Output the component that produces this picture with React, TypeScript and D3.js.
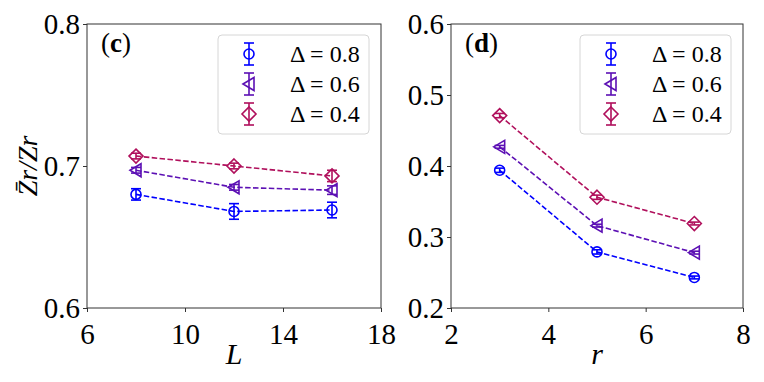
import React, { useEffect, useRef } from 'react';
import * as d3 from 'd3';

// panel (c): L dependence
const L_VALUES = [8, 12, 16];
const C_D08 = [0.680, 0.668, 0.669];
const C_D08_ERR = [0.004, 0.0055, 0.0055];
const C_D06 = [0.697, 0.685, 0.683];
const C_D06_ERR = [0.002, 0.002, 0.003];
const C_D04 = [0.707, 0.700, 0.693];
const C_D04_ERR = [0.002, 0.002, 0.004];

// panel (d): r dependence
const R_VALUES = [3, 5, 7];
const D_D08 = [0.394, 0.279, 0.243];
const D_D08_ERR = [0.003, 0.003, 0.002];
const D_D06 = [0.427, 0.316, 0.278];
const D_D06_ERR = [0.002, 0.002, 0.002];
const D_D04 = [0.471, 0.356, 0.319];
const D_D04_ERR = [0.003, 0.003, 0.002];

const DELTA_LABELS = ['0.8', '0.6', '0.4'];
const C_XTICKS = [6, 10, 14, 18];
const C_YTICKS = [0.6, 0.7, 0.8];
const D_XTICKS = [2, 4, 6, 8];
const D_YTICKS = [0.2, 0.3, 0.4, 0.5, 0.6];

const COLORS = ['#0000ff', '#5c10b4', '#b0105c'];
const MARKERS = ['circle', 'triangle', 'diamond'];
const FONT = "'Liberation Serif', 'Times New Roman', Times, 'DejaVu Serif', serif";

const W = 764;
const H = 382;

function drawMarker(g, kind, x, y, color) {
  if (kind === 'circle') {
    g.append('circle').attr('cx', x).attr('cy', y).attr('r', 5)
      .attr('fill', 'none').attr('stroke', color).attr('stroke-width', 1.6);
  } else if (kind === 'triangle') {
    g.append('path')
      .attr('d', `M${x - 6},${y} L${x + 5},${y - 6.5} L${x + 5},${y + 6.5} Z`)
      .attr('fill', 'none').attr('stroke', color).attr('stroke-width', 1.6);
  } else {
    g.append('path')
      .attr('d', `M${x},${y - 7} L${x + 7},${y} L${x},${y + 7} L${x - 7},${y} Z`)
      .attr('fill', 'none').attr('stroke', color).attr('stroke-width', 1.6);
  }
}

function drawPanel(svg, cfg) {
  const { x, y, xs, series, xTicks, yTicks, xLabel, tag } = cfg;
  const [x0, x1] = x.range();
  const [y0, y1] = y.range();

  const g = svg.append('g');

  // series: dashed lines, error bars, markers
  series.forEach((s, i) => {
    const color = COLORS[i];
    const pts = xs.map((v, k) => ({ x: v, y: s.vals[k], e: s.errs[k] }));
    const line = d3.line().x(d => x(d.x)).y(d => y(d.y));
    g.append('path').datum(pts).attr('d', line)
      .attr('fill', 'none').attr('stroke', color).attr('stroke-width', 1.6)
      .attr('stroke-dasharray', '5.5,2.4');
    pts.forEach(p => {
      const px = x(p.x);
      const top = y(p.y + p.e);
      const bot = y(p.y - p.e);
      g.append('line').attr('x1', px).attr('x2', px).attr('y1', top).attr('y2', bot)
        .attr('stroke', color).attr('stroke-width', 1.6);
      [top, bot].forEach(cy => {
        g.append('line').attr('x1', px - 5).attr('x2', px + 5).attr('y1', cy).attr('y2', cy)
          .attr('stroke', color).attr('stroke-width', 1.6);
      });
      drawMarker(g, MARKERS[i], px, y(p.y), color);
    });
  });

  // frame
  g.append('rect').attr('x', x0).attr('y', y1).attr('width', x1 - x0).attr('height', y0 - y1)
    .attr('fill', 'none').attr('stroke', '#333').attr('stroke-width', 1);

  // axes
  const ax = g.append('g').attr('transform', `translate(0,${y0})`)
    .call(d3.axisBottom(x).tickValues(xTicks).tickSize(4).tickSizeOuter(0).tickPadding(4).tickFormat(d3.format('d')));
  const ay = g.append('g').attr('transform', `translate(${x0},0)`)
    .call(d3.axisLeft(y).tickValues(yTicks).tickSize(4).tickSizeOuter(0).tickPadding(3).tickFormat(d3.format('.1f')));
  [ax, ay].forEach(a => {
    a.attr('font-family', null).attr('font-size', null);
    a.select('.domain').remove();
    a.selectAll('line').attr('stroke', '#333');
    a.selectAll('text').style('font-family', FONT).style('font-size', '29px').attr('fill', '#000');
  });
  ax.selectAll('text').attr('dy', '0.95em');
  ay.selectAll('text').attr('dy', '0.33em');

  // axis label
  g.append('text').attr('x', (x0 + x1) / 2).attr('y', 364).attr('text-anchor', 'middle')
    .style('font-family', FONT).style('font-style', 'italic').style('font-size', '30px').text(xLabel);

  // panel tag
  const t = g.append('text').attr('x', x0 + 14).attr('y', y1 + 28)
    .style('font-family', FONT).style('font-size', '27px');
  t.append('tspan').text('(');
  t.append('tspan').style('font-weight', 'bold').text(tag);
  t.append('tspan').text(')');

  // legend
  const lx = x1 - 163;
  const ly = y1 + 11;
  const leg = g.append('g');
  leg.append('rect').attr('x', lx).attr('y', ly).attr('width', 151).attr('height', 99)
    .attr('rx', 4).attr('fill', 'white').attr('fill-opacity', 0.8)
    .attr('stroke', '#d6d6d6').attr('stroke-width', 1);
  DELTA_LABELS.forEach((lab, i) => {
    const cy = ly + 19 + i * 30;
    const mx = lx + 31;
    const color = COLORS[i];
    leg.append('line').attr('x1', mx).attr('x2', mx).attr('y1', cy - 11).attr('y2', cy + 11)
      .attr('stroke', color).attr('stroke-width', 1.6);
    [cy - 11, cy + 11].forEach(yy => {
      leg.append('line').attr('x1', mx - 5).attr('x2', mx + 5).attr('y1', yy).attr('y2', yy)
        .attr('stroke', color).attr('stroke-width', 1.6);
    });
    drawMarker(leg, MARKERS[i], mx, cy, color);
    leg.append('text').attr('x', lx + 72).attr('y', cy + 8)
      .style('font-family', FONT).style('font-size', '24px').text(`Δ = ${lab}`);
  });
}

export default function App() {
  const ref = useRef(null);

  useEffect(() => {
    const svg = d3.select(ref.current);
    svg.selectAll('*').remove();

    const top = 24;
    const bottom = 308;

    drawPanel(svg, {
      x: d3.scaleLinear().domain([6, 18]).range([87, 381]),
      y: d3.scaleLinear().domain([0.6, 0.8]).range([bottom, top]),
      xs: L_VALUES,
      series: [
        { vals: C_D08, errs: C_D08_ERR },
        { vals: C_D06, errs: C_D06_ERR },
        { vals: C_D04, errs: C_D04_ERR },
      ],
      xTicks: C_XTICKS,
      yTicks: C_YTICKS,
      xLabel: 'L',
      tag: 'c',
    });

    drawPanel(svg, {
      x: d3.scaleLinear().domain([2, 8]).range([451, 743]),
      y: d3.scaleLinear().domain([0.2, 0.6]).range([bottom, top]),
      xs: R_VALUES,
      series: [
        { vals: D_D08, errs: D_D08_ERR },
        { vals: D_D06, errs: D_D06_ERR },
        { vals: D_D04, errs: D_D04_ERR },
      ],
      xTicks: D_XTICKS,
      yTicks: D_YTICKS,
      xLabel: 'r',
      tag: 'd',
    });

    // y label
    svg.append('text')
      .attr('transform', `translate(37,166) rotate(-90)`)
      .attr('text-anchor', 'middle')
      .style('font-family', FONT).style('font-style', 'italic').style('font-size', '28px')
      .text('Z\u0304r/Zr');
  }, []);

  return (
    <svg ref={ref} width={W} height={H}
      style={{ position: 'absolute', left: 0, top: 0, background: 'white', fontFamily: FONT }} />
  );
}
